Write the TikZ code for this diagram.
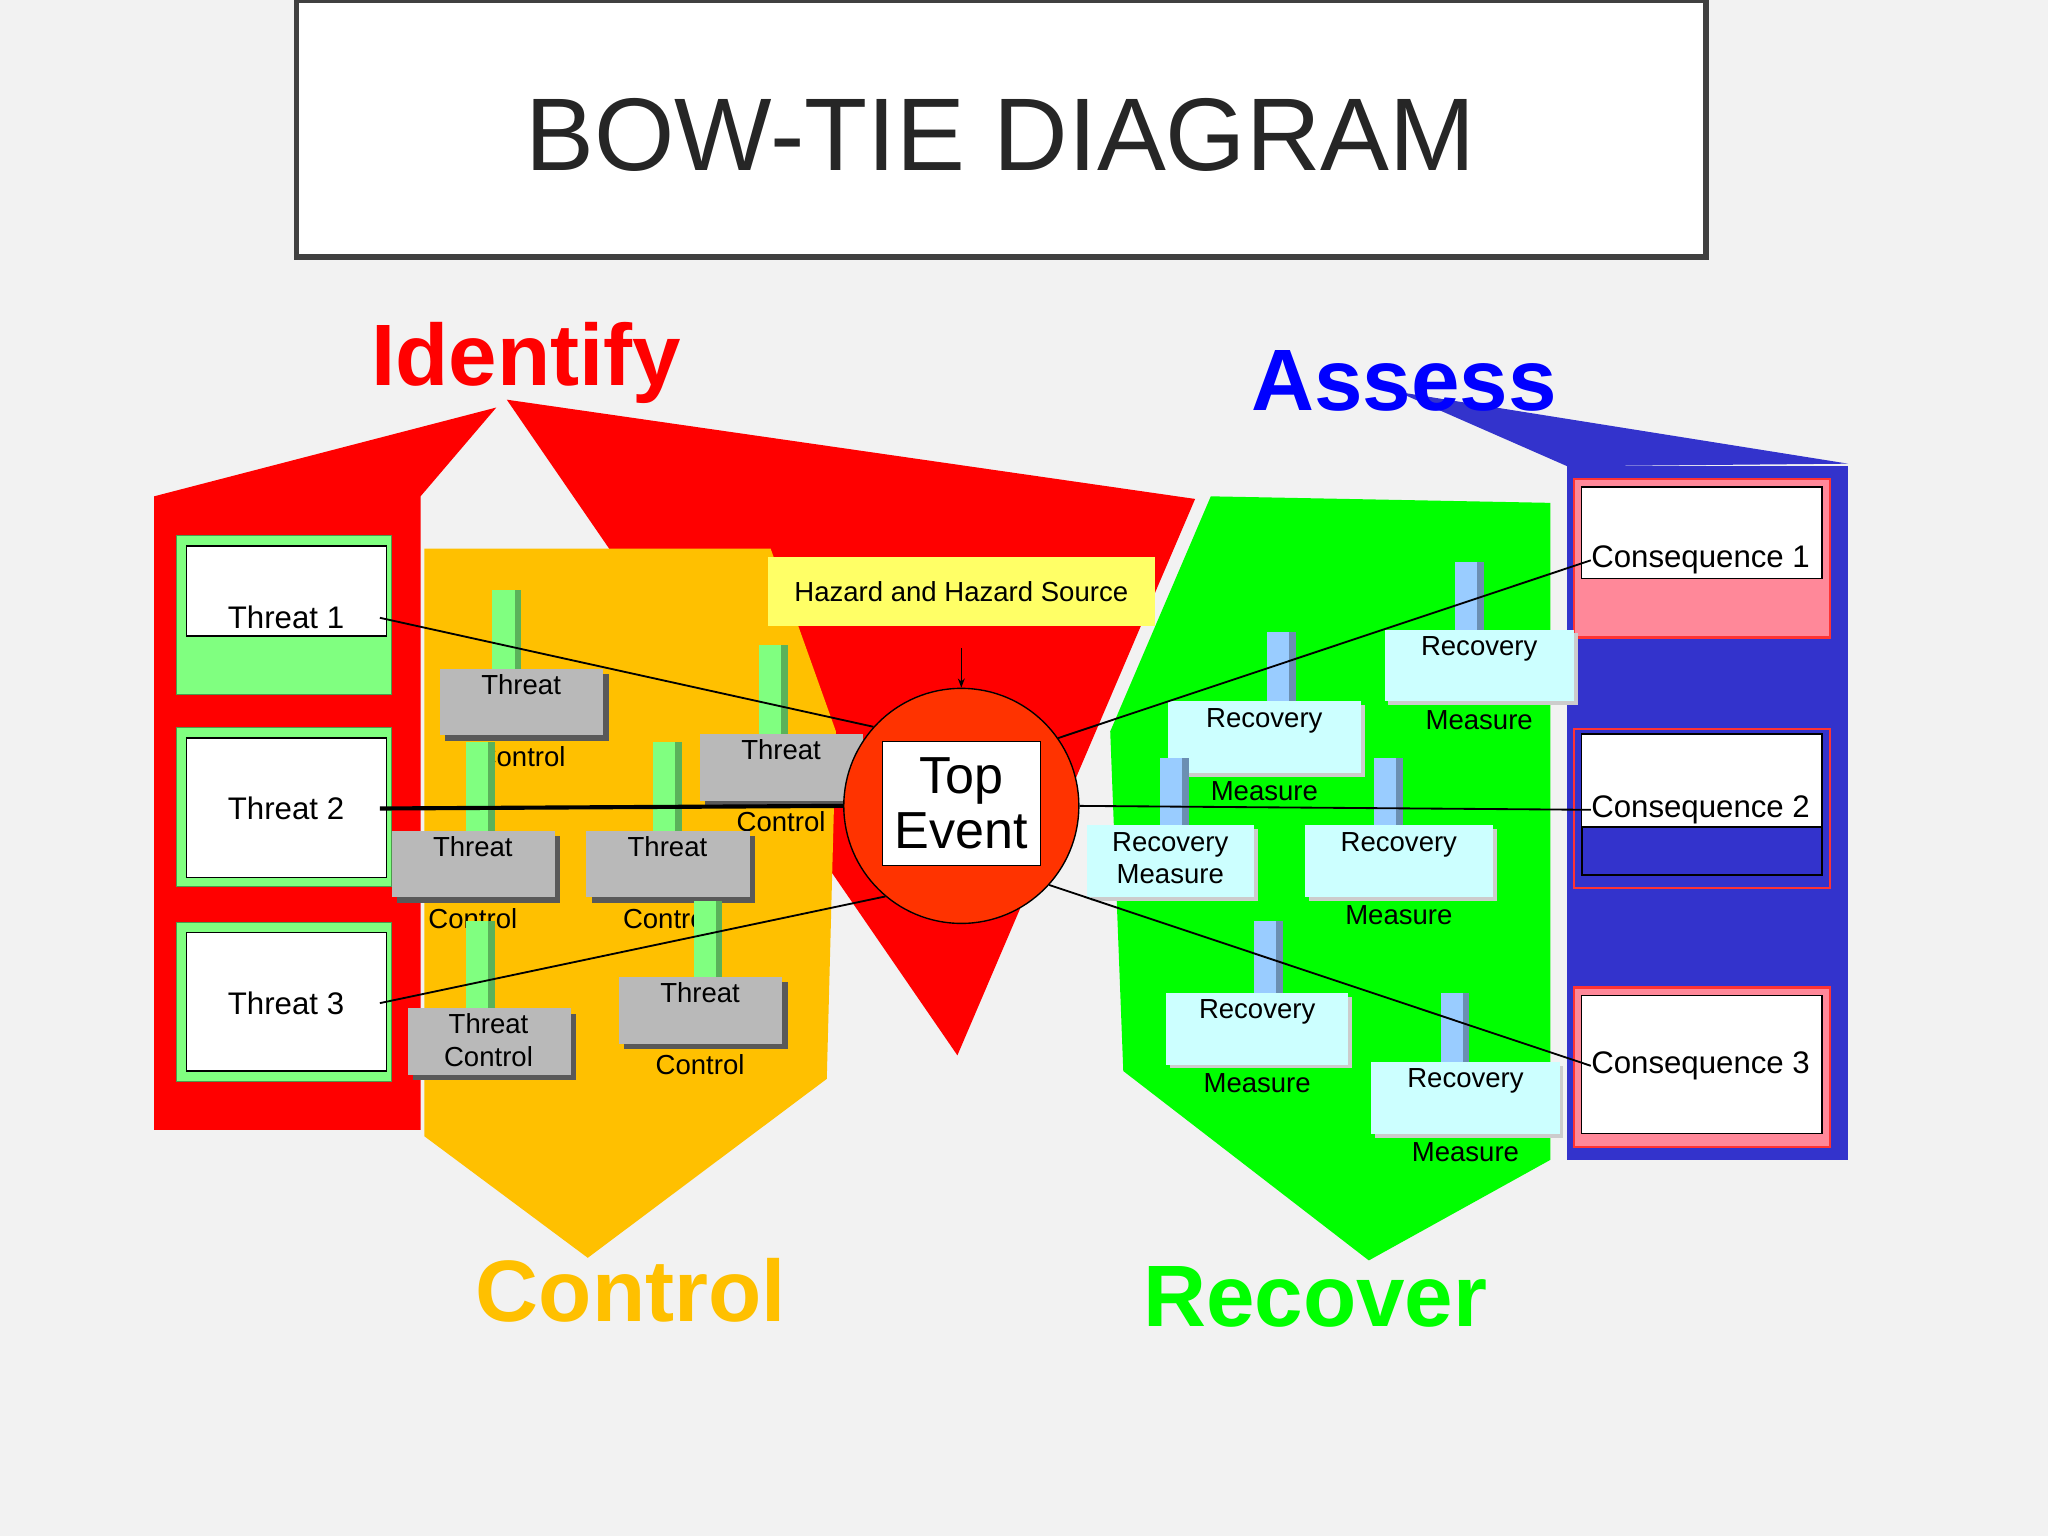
\documentclass[tikz,border=0pt]{standalone}
\usepackage{fontspec}
\usetikzlibrary{arrows.meta,calc}
\setmainfont{Liberation Sans}
\definecolor{bg}{HTML}{F2F2F2}
\definecolor{rd}{HTML}{FF0000}
\definecolor{org}{HTML}{FFC000}
\definecolor{grn}{HTML}{00FF00}
\definecolor{blu}{HTML}{3333CC}
\definecolor{lgrn}{HTML}{80FF80}
\definecolor{salm}{HTML}{FF8899}
\definecolor{cyanb}{HTML}{CCFFFF}
\definecolor{stemb}{HTML}{99CCFF}
\definecolor{topc}{HTML}{FF3300}
\definecolor{yel}{HTML}{FFFF66}
\tikzset{
 txt/.style={font=\fontsize{12}{14}\selectfont, align=center, inner sep=0pt},
 big/.style={font=\fontsize{13.6}{16}\selectfont, inner sep=0pt},
 link/.style={draw=black, line width=0.8pt}
}
\newcommand\ctrlunit[7]{% stemx, stemtop, boxleft, boxtop, text, name, below text
  \fill[lgrn] (#1,#2) rectangle (#1+22,#4);
  \fill[lgrn!70!black] (#1+17,#2) rectangle (#1+22,#4);
  \fill[gray!70!black] (#3+4,#4+4) rectangle (#3+129,#4+55);
  \fill[gray!55] (#3,#4) rectangle (#3+125,#4+51);
  \node[txt, anchor=north] (#6) at (#3+62,#4+4) {#5};
  \node[txt] at (#3+62,#4+67) {#7};
}
\newcommand\recunit[8]{% stemx, stemtop, boxleft, boxtop, boxw, text, name, below
  \fill[stemb] (#1,#2) rectangle (#1+22,#4);
  \fill[stemb!70!black] (#1+17,#2) rectangle (#1+22,#4);
  \fill[gray!40] (#3+3,#4+3) rectangle (#3+#5+3,#4+58);
  \fill[cyanb] (#3,#4) rectangle (#3+#5,#4+55);
  \node[txt, anchor=north] (#7) at (#3+#5/2,#4+5) {#6};
  \node[txt] at (#3+#5/2,#4+69) {#8};
}
\begin{document}
\begin{tikzpicture}[x=0.02cm,y=-0.02cm]
\fill[bg] (0,0) rectangle (1568,1176);
\useasboundingbox (0,0) rectangle (1568,1176);
% title
\draw[line width=2.5pt, draw=black!75, fill=white] (227,0) rectangle (1306,197);
\node[font=\fontsize{45}{50}\selectfont, text=black!85] (title) at (766,103) {BOW-TIE DIAGRAM};
% big shapes
\fill[rd] (388,306) -- (915,382) -- (733,808) -- cycle;
\fill[rd] (118,380) -- (380,312) -- (322,380) -- (322,865) -- (118,865) -- cycle;
\fill[org] (325,420) -- (590,420) -- (640,560) -- (633,826) -- (450,963) -- (325,870) -- cycle;
\fill[grn] (927,380) -- (1187,385) -- (1187,888) -- (1048,965) -- (860,820) -- (850,560) -- cycle;
\fill[blu] (1070,300) -- (1415,355) -- (1200,357) -- cycle;
\fill[blu] (1200,357) rectangle (1415,888);
% headings
\node[font=\fontsize{38}{40}\selectfont\bfseries, text=rd] (lid) at (403,278) {Identify};
\node[font=\fontsize{38}{40}\selectfont\bfseries, text=blue] (las) at (1075,292) {Assess};
\node[font=\fontsize{38}{40}\selectfont\bfseries, text=org] (lco) at (483,988) {Control};
\node[font=\fontsize{38}{40}\selectfont\bfseries, text=grn] (lre) at (1007,993) {Recover};
% threats
\foreach \i/\ya/\yb/\yc/\ty in {1/410/418/487/473, 2/557/565/672/619, 3/706/714/820/768}{
  \fill[lgrn] (135,\ya) rectangle (300,\ya+122);
  \draw[lgrn!60!black, line width=0.5pt] (135,\ya) rectangle (300,\ya+122);
  \draw[fill=white, line width=0.6pt] (143,\yb) rectangle (296,\yc);
  \node[big] (t\i) at (219,\ty) {Threat \i};
}
% consequences
\fill[salm] (1205,367) rectangle (1401,488);
\draw[rd!80, line width=1pt] (1205,367) rectangle (1401,488);
\draw[fill=white, line width=0.6pt] (1211,373) rectangle (1395,443);
\node[big] (c1) at (1302,429) {Consequence 1};
\draw[rd!80, line width=1pt] (1205,558) rectangle (1401,680);
\draw[fill=white, line width=0.6pt] (1211,562) rectangle (1395,633);
\draw[fill=blu, line width=0.8pt] (1211,633) rectangle (1395,670);
\node[big] (c2) at (1302,620) {Consequence 2};
\fill[salm] (1205,756) rectangle (1401,878);
\draw[rd!80, line width=1pt] (1205,756) rectangle (1401,878);
\draw[fill=white, line width=0.6pt] (1211,762) rectangle (1395,868);
\node[big] (c3) at (1302,816) {Consequence 3};
% controls
\ctrlunit{377}{452}{337}{512}{Threat}{k1}{Control}
\ctrlunit{581}{494}{536}{562}{Threat}{k2}{Control}
\ctrlunit{357}{568}{300}{636}{Threat}{k3}{Control}
\ctrlunit{500}{568}{449}{636}{Threat}{k4}{Control}
\ctrlunit{357}{705}{312}{772}{Threat\\Control}{k5}{}
\ctrlunit{531}{690}{474}{748}{Threat}{k6}{Control}
% recovery
\recunit{1114}{430}{1060}{482}{145}{Recovery}{r1}{Measure}
\recunit{970}{484}{894}{537}{148}{Recovery}{r2}{Measure}
\recunit{888}{580}{832}{632}{128}{Recovery\\Measure}{r3}{}
\recunit{1052}{580}{999}{632}{144}{Recovery}{r4}{Measure}
\recunit{960}{705}{893}{760}{139}{Recovery}{r5}{Measure}
\recunit{1103}{760}{1050}{813}{144}{Recovery}{r6}{Measure}
% hazard
\node[fill=yel, minimum width=5.92cm, minimum height=1.06cm, font=\fontsize{12}{14}\selectfont] (haz) at (736,453) {Hazard and Hazard Source};
% top event
\node[circle, draw=black, line width=0.6pt, fill=topc, minimum size=3.6cm] (top) at (736,617) {};
\node[draw, fill=white, line width=0.6pt, minimum width=2.42cm, minimum height=1.9cm, align=center, font=\fontsize{22.7}{24}\selectfont, inner sep=0pt] (te) at (736,615) {Top\\Event};
\coordinate (ha) at (736,496);
\draw[-{Stealth[length=4pt]}, line width=0.6pt] (ha) -- (top.north);
% connectors
\draw[link] ($(t1.east)+(27,0)$) -- (top.138);
\draw[line width=1.8pt] ($(t2.east)+(27,0)$) -- (top.180);
\draw[link] ($(t3.east)+(27,0)$) -- (top.230);
\draw[link] (top.35) -- (c1.west);
\draw[link] (top.0) -- (c2.west);
\draw[link] (top.-42) -- (c3.west);
\end{tikzpicture}
\end{document}
